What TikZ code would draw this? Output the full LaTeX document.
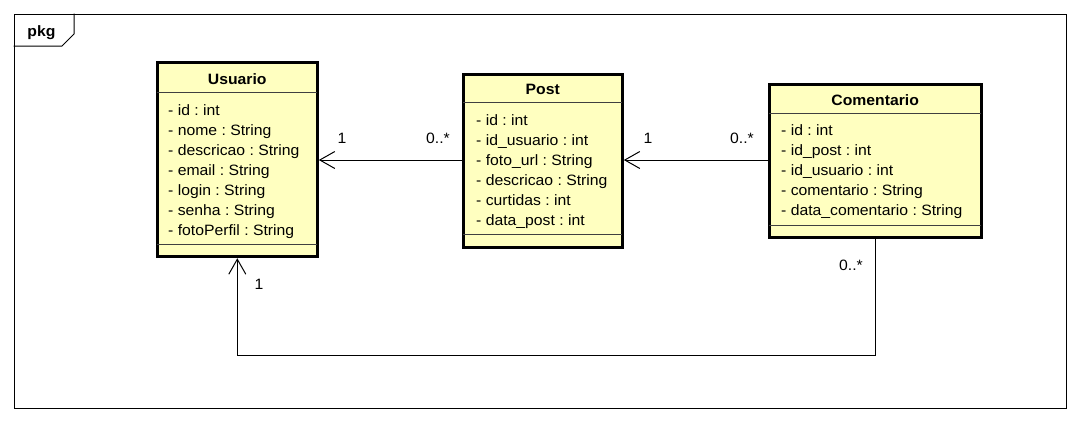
\documentclass[tikz,border=0pt]{standalone}
\usepackage{fontspec}
\setmainfont{Liberation Sans}[FakeStretch=1.05]
\usetikzlibrary{arrows.meta}
\definecolor{classfill}{RGB}{255,255,192}
\frenchspacing
\begin{document}
\begin{tikzpicture}[x=1pt,y=-1pt,
  classbox/.style={draw=black,line width=3pt,fill=classfill,inner sep=0pt},
  sepline/.style={draw=black!75,line width=1pt},
  attr/.style={anchor=base west,inner sep=0pt,font=\fontsize{15}{18}\selectfont},
  title/.style={anchor=base,inner sep=0pt,font=\fontsize{15}{18}\selectfont\bfseries},
  mult/.style={anchor=base,inner sep=0pt,font=\fontsize{15}{18}\selectfont},
  assoc/.style={draw=black,line width=1pt,-{Straight Barb[length=15pt,width=17pt,line width=1pt]}},
  framebox/.style={draw=black,line width=1pt,inner sep=0pt,anchor=north west}
]
\useasboundingbox (0,0) rectangle (1078,421);
% package frame
\node[framebox,minimum width=1052pt,minimum height=394pt] (frame) at (13.5,13.5) {};
\draw[line width=1pt] (13.5,46) -- (62,46) -- (74,34) -- (74,13.5);
\node[title] (pkg) at (41.5,36.5) {pkg};

% Usuario
\node[classbox,minimum width=160pt,minimum height=194pt] (usuario) at (237.3,159.7) {};
\draw[sepline] (157.3,92.3) -- (317.3,92.3);
\draw[sepline] (157.3,244.3) -- (317.3,244.3);
\node[title] (ut) at (237.3,84) {Usuario};
\node[attr] (u1) at (168,115.5) {- id : int};
\node[attr] (u2) at (168,135.5) {- nome : String};
\node[attr] (u3) at (168,155.5) {- descricao : String};
\node[attr] (u4) at (168,175.5) {- email : String};
\node[attr] (u5) at (168,195.5) {- login : String};
\node[attr] (u6) at (168,215.5) {- senha : String};
\node[attr] (u7) at (168,235.5) {- fotoPerfil : String};

% Post
\node[classbox,minimum width=159pt,minimum height=173.7pt] (post) at (542.8,160.85) {};
\draw[sepline] (463.3,102.3) -- (622.3,102.3);
\draw[sepline] (463.3,234) -- (622.3,234);
\node[title] (pt) at (542.8,94.3) {Post};
\node[attr] (p1) at (476,125.5) {- id : int};
\node[attr] (p2) at (476,145.5) {- id\_usuario : int};
\node[attr] (p3) at (476,165.5) {- foto\_url : String};
\node[attr] (p4) at (476,185.5) {- descricao : String};
\node[attr] (p5) at (476,205.5) {- curtidas : int};
\node[attr] (p6) at (476,225.5) {- data\_post : int};

% Comentario
\node[classbox,minimum width=211.7pt,minimum height=153.4pt] (comentario) at (875.15,161) {};
\draw[sepline] (769.3,113.3) -- (981,113.3);
\draw[sepline] (769.3,225) -- (981,225);
\node[title] (ct) at (875.15,105) {Comentario};
\node[attr] (c1) at (781,135.7) {- id : int};
\node[attr] (c2) at (781,155.7) {- id\_post : int};
\node[attr] (c3) at (781,175.7) {- id\_usuario : int};
\node[attr] (c4) at (781,195.7) {- comentario : String};
\node[attr] (c5) at (781,215.7) {- data\_comentario : String};

% associations
\draw[assoc] (post.west |- 0,160) -- (usuario.east |- 0,160);
\draw[assoc] (comentario.west |- 0,160) -- (post.east |- 0,160);
\draw[assoc] (comentario.south) -- (comentario.south |- 0,355) -- (usuario.south |- 0,355) -- (usuario.south);

% multiplicities
\node[mult] (m1) at (342,143) {1};
\node[mult] (m2) at (438,143) {0..*};
\node[mult] (m3) at (648,143) {1};
\node[mult] (m4) at (742,143) {0..*};
\node[mult] (m5) at (851,270) {0..*};
\node[mult] (m6) at (259,289) {1};
\end{tikzpicture}
\end{document}
